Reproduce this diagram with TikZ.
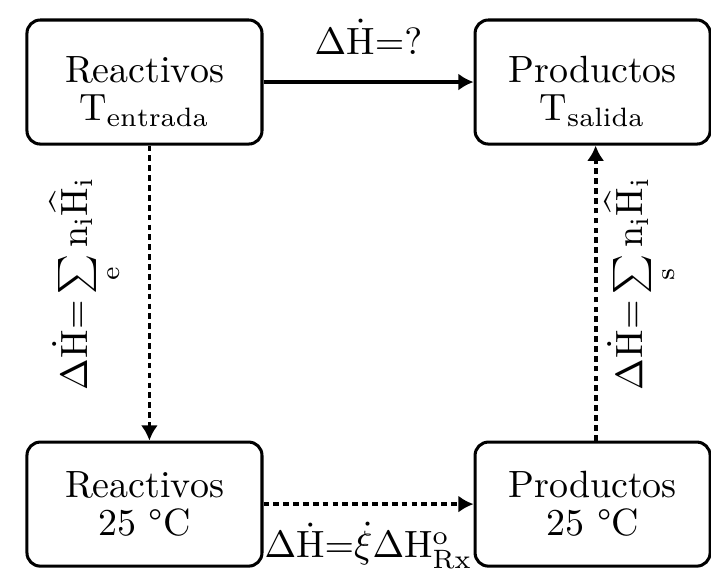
\documentclass[tikz,border=0pt]{standalone}
\usepackage{fontspec}
\usepackage{tikz}
\usetikzlibrary{arrows.meta, positioning}

\begin{document}
\begin{tikzpicture}[
    caja/.style={draw, line width=0.8pt, rounded corners=3.5pt, align=center,
                 minimum width=2.175cm, minimum height=1.148cm, inner sep=0pt},
    flecha/.style={line width=1pt, -{Latex[length=4pt,width=4.5pt]}},
    punteada/.style={flecha, dash pattern=on 1.5pt off 1.1pt}
]
\useasboundingbox (0,0) rectangle (6.58,-5.257);

% ================= ESTADOS =================
\node[caja] (reac-ent) at (1.337,-0.759) {\rule{0pt}{12pt}Reactivos\\[-2pt]$\mathrm{T_{entrada}}$};
\node[caja, right=1.944cm of reac-ent] (prod-sal) {\rule{0pt}{12pt}Productos\\[-2pt]$\mathrm{T_{salida}}$};
\node[caja, below=2.73cm of reac-ent] (reac-25) {Reactivos\\[-2pt]25 °C};
\node[caja, below=2.73cm of prod-sal] (prod-25) {Productos\\[-2pt]25 °C};

% ================= CAMINOS =================
% camino directo
\draw[flecha] (reac-ent) -- (prod-sal)
    node[midway, above=3.5pt] {$\Delta\dot{\mathrm{H}}{=}?$};
% enfriar reactivos hasta 25 C
\draw[punteada] ([xshift=1.3pt]reac-ent.south) -- ([xshift=1.3pt]reac-25.north)
    node[midway, xshift=-3pt, yshift=2.5pt, rotate=90, anchor=south]
    {$\Delta\dot{\mathrm{H}}{=}\sum\limits_{\mathrm{e}}\mathrm{n_i\hat{H}_i}$};
% reaccion a 25 C
\draw[punteada] (reac-25) -- (prod-25)
    node[midway, below=1pt] {$\Delta\dot{\mathrm{H}}{=}\dot{\xi}\Delta\mathrm{H}^{\mathrm{o}}_{\mathrm{Rx}}$};
% calentar productos hasta la salida
\draw[punteada] ([xshift=0.8pt]prod-25.north) -- ([xshift=0.8pt]prod-sal.south)
    node[midway, xshift=-1.5pt, yshift=2.5pt, rotate=90, anchor=north]
    {$\Delta\dot{\mathrm{H}}{=}\sum\limits_{\mathrm{s}}\mathrm{n_i\hat{H}_i}$};

\end{tikzpicture}
\end{document}
